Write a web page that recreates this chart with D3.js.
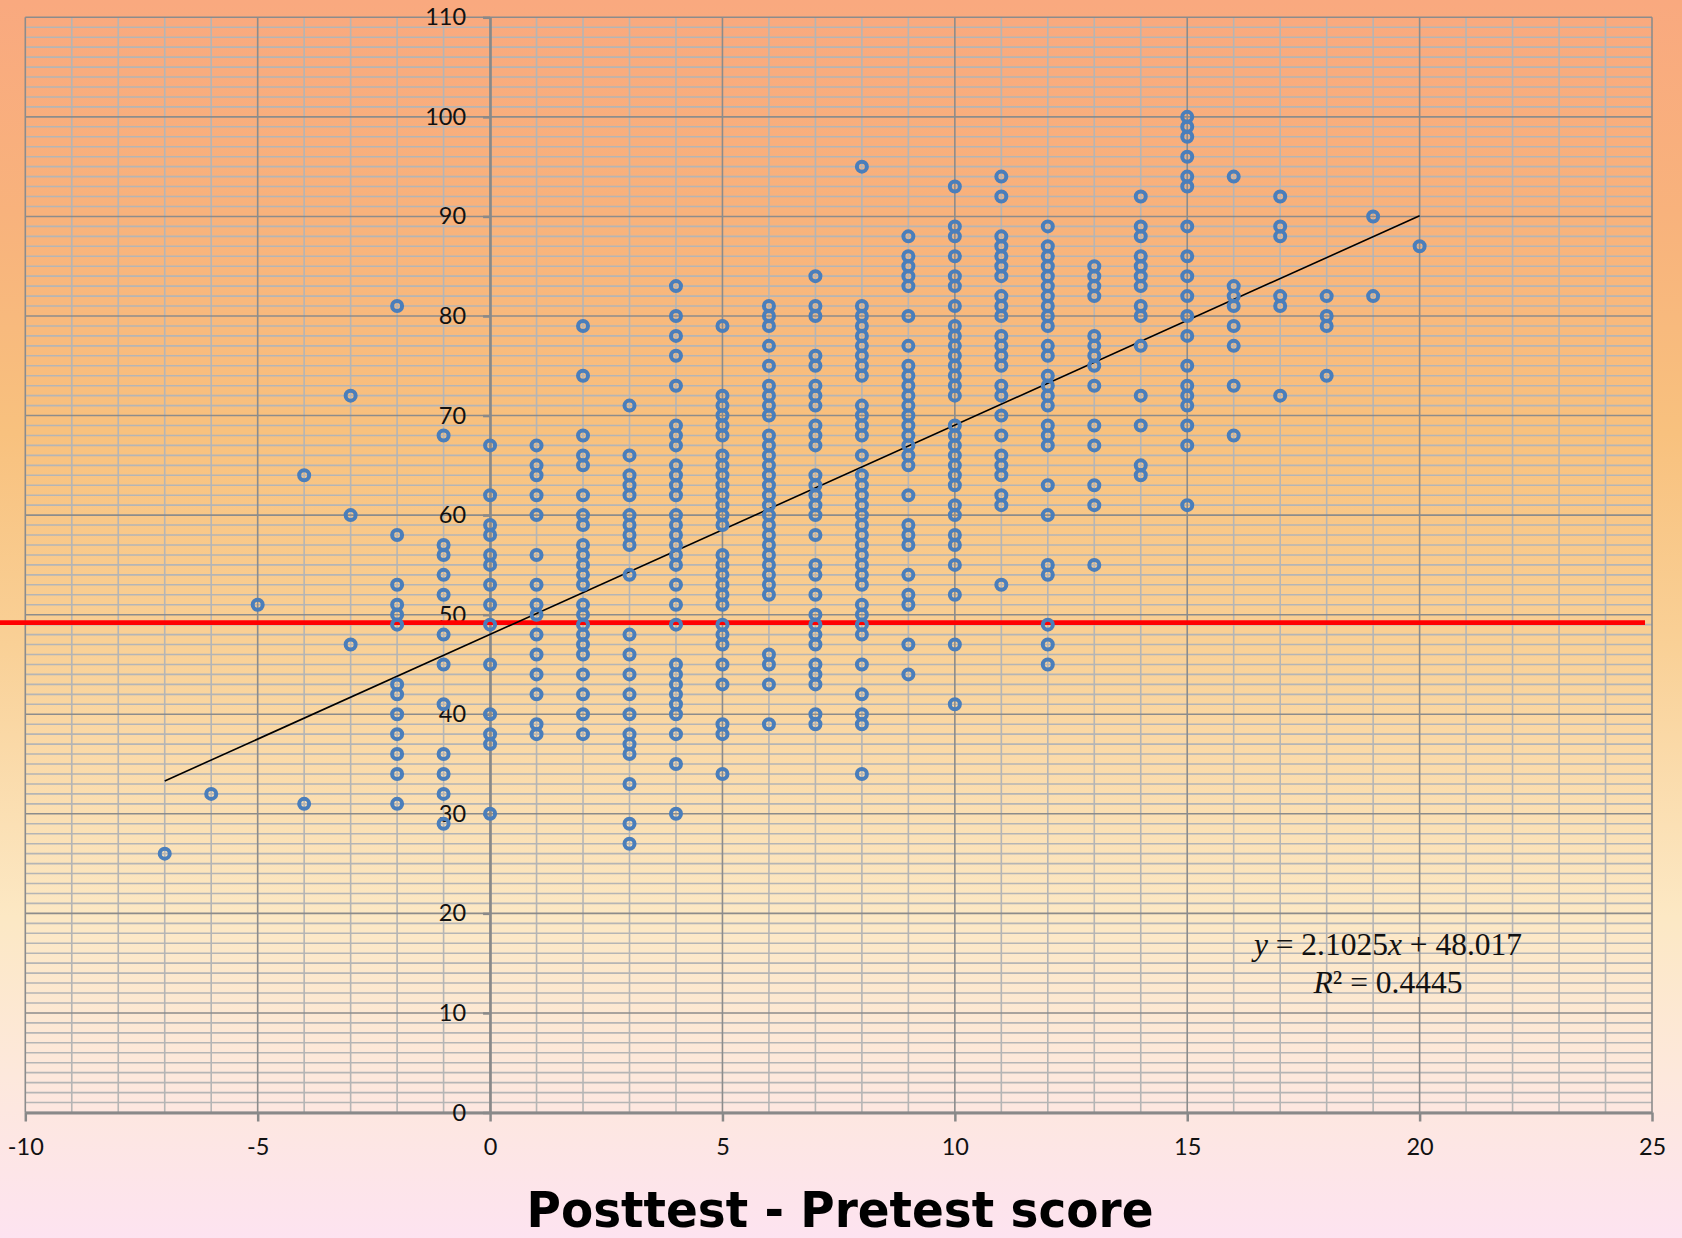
<!DOCTYPE html>
<html>
<head>
<meta charset="utf-8">
<script src="https://cdn.jsdelivr.net/npm/d3@7"></script>
<style>
  body { margin: 0; }
  svg { display: block; }
</style>
</head>
<body>
<svg id="chart"></svg>
<script>
// gain in score (posttest - pretest) and the posttest scores seen at each gain
const gains = [-7, -6, -5, -4, -3, -2, -1, 0, 1, 2, 3, 4, 5, 6, 7, 8, 9, 10, 11, 12, 13, 14, 15, 16, 17, 18, 19, 20]
const scores = [
  [26],
  [32],
  [51],
  [64, 31],
  [72, 60, 47],
  [81, 58, 53, 51, 50, 49, 43, 42, 40, 38, 36, 34, 31],
  [68, 57, 56, 54, 52, 48, 45, 41, 36, 34, 32, 29],
  [67, 62, 59, 58, 56, 55, 53, 51, 49, 45, 40, 38, 37, 30],
  [67, 65, 64, 62, 60, 56, 53, 51, 50, 48, 46, 44, 42, 39, 38],
  [79, 74, 68, 66, 65, 62, 60, 59, 57, 56, 55, 54, 53, 51, 50, 49, 48, 47, 46, 44, 42, 40, 38],
  [71, 66, 64, 63, 62, 60, 59, 58, 57, 54, 48, 46, 44, 42, 40, 38, 37, 36, 33, 29, 27],
  [83, 80, 78, 76, 73, 69, 68, 67, 65, 64, 63, 62, 60, 59, 58, 57, 56, 55, 53, 51, 49, 45, 44, 43, 42, 41, 40, 38, 35, 30],
  [79, 72, 71, 70, 69, 68, 66, 65, 64, 63, 62, 61, 60, 59, 56, 55, 54, 53, 52, 51, 49, 48, 47, 45, 43, 39, 38, 34],
  [81, 80, 79, 77, 75, 73, 72, 71, 70, 68, 67, 66, 65, 64, 63, 62, 61, 60, 59, 58, 57, 56, 55, 54, 53, 52, 46, 45, 43, 39],
  [84, 81, 80, 76, 75, 73, 72, 71, 69, 68, 67, 64, 63, 62, 61, 60, 58, 55, 54, 52, 50, 49, 48, 47, 45, 44, 43, 40, 39],
  [95, 81, 80, 79, 78, 77, 76, 75, 74, 71, 70, 69, 68, 66, 64, 63, 62, 61, 60, 59, 58, 57, 56, 55, 54, 53, 51, 50, 49, 48, 45, 42, 40, 39, 34],
  [88, 86, 85, 84, 83, 80, 77, 75, 74, 73, 72, 71, 70, 69, 68, 67, 66, 65, 62, 59, 58, 57, 54, 52, 51, 47, 44],
  [93, 89, 88, 86, 84, 83, 81, 79, 78, 77, 76, 75, 74, 73, 72, 69, 68, 67, 66, 65, 64, 63, 61, 60, 58, 57, 55, 52, 47, 41],
  [94, 92, 88, 87, 86, 85, 84, 82, 81, 80, 78, 77, 76, 75, 73, 72, 70, 68, 66, 65, 64, 62, 61, 53],
  [89, 87, 86, 85, 84, 83, 82, 81, 80, 79, 77, 76, 74, 73, 72, 71, 69, 68, 67, 63, 60, 55, 54, 49, 47, 45],
  [85, 84, 83, 82, 78, 77, 76, 75, 73, 69, 67, 63, 61, 55],
  [92, 89, 88, 86, 85, 84, 83, 81, 80, 77, 72, 69, 65, 64],
  [100, 99, 98, 96, 94, 93, 89, 86, 84, 82, 80, 78, 75, 73, 72, 71, 69, 67, 61],
  [94, 83, 82, 81, 79, 77, 73, 68],
  [92, 89, 88, 82, 81, 72],
  [82, 80, 79, 74],
  [90, 82],
  [87]
]

// linear trend as printed on the chart
const slope = 2.1025
const intercept = 48.017
const rSquared = 0.4445
const trendRange = [-7, 20]

// red reference line (posttest score)
const passScore = 49.2

const xTicks = [-10, -5, 0, 5, 10, 15, 20, 25]
const yTicks = [0, 10, 20, 30, 40, 50, 60, 70, 80, 90, 100, 110]
const xTitle = "Posttest - Pretest score"

const width = 1682
const height = 1238

const points = []
gains.forEach((g, i) => scores[i].forEach(s => points.push({ x: g, y: s })))

const x = d3.scaleLinear().domain([-10, 25]).range([25.3, 1652])
const y = d3.scaleLinear().domain([0, 110]).range([1112.5, 17.3])

const svg = d3.select("#chart")
    .attr("width", width)
    .attr("height", height)

const grad = svg.append("defs")
    .append("linearGradient")
    .attr("id", "bg")
    .attr("x1", 0).attr("y1", 0).attr("x2", 0).attr("y2", 1)

grad.selectAll("stop")
    .data([
        [0, "#f9a97f"],
        [0.17, "#f8b27c"],
        [0.35, "#f8c17e"],
        [0.52, "#f9d096"],
        [0.74, "#fce8c4"],
        [0.87, "#fde8dc"],
        [1, "#fde3f0"]
    ])
    .join("stop")
    .attr("offset", d => d[0])
    .attr("stop-color", d => d[1])

svg.append("rect")
    .attr("width", width)
    .attr("height", height)
    .attr("fill", "url(#bg)")

const grid = svg.append("g")

// minor gridlines, one unit apart
grid.selectAll(".hminor")
    .data(d3.range(1, 110).filter(v => v % 10 !== 0))
    .join("line")
    .attr("x1", x(-10)).attr("x2", x(25))
    .attr("y1", d => y(d)).attr("y2", d => y(d))
    .style("stroke", "#b5b5b5")
    .style("stroke-width", 1.6)

grid.selectAll(".vminor")
    .data(d3.range(-9, 25).filter(v => v % 5 !== 0))
    .join("line")
    .attr("y1", y(0)).attr("y2", y(110))
    .attr("x1", d => x(d)).attr("x2", d => x(d))
    .style("stroke", "#b5b5b5")
    .style("stroke-width", 1.6)

// major gridlines
grid.selectAll(".hmajor")
    .data(yTicks)
    .join("line")
    .attr("x1", x(-10)).attr("x2", x(25))
    .attr("y1", d => y(d)).attr("y2", d => y(d))
    .style("stroke", "#8c8c8c")
    .style("stroke-width", 1.6)

grid.selectAll(".vmajor")
    .data(xTicks)
    .join("line")
    .attr("y1", y(0)).attr("y2", y(110))
    .attr("x1", d => x(d)).attr("x2", d => x(d))
    .style("stroke", "#8c8c8c")
    .style("stroke-width", 1.6)

// axes (plain hyphen for negatives, like the original)
const fmt = d => String(d)

const xAxis = svg.append("g")
    .attr("transform", `translate(0,${y(0)})`)
    .call(d3.axisBottom(x).tickValues(xTicks).tickFormat(fmt).tickSize(9).tickPadding(17).tickSizeOuter(0))

const yAxis = svg.append("g")
    .attr("transform", `translate(${x(0)},0)`)
    .call(d3.axisLeft(y).tickValues(yTicks).tickFormat(fmt).tickSize(7).tickPadding(17).tickSizeOuter(0))

xAxis.select(".domain").style("stroke", "#898989").style("stroke-width", 3)
yAxis.select(".domain").style("stroke", "#898989").style("stroke-width", 2.5)
svg.selectAll(".tick line").style("stroke", "#898989").style("stroke-width", 2.5)
svg.selectAll(".tick text")
    .style("font-family", "Lato, 'Open Sans', sans-serif")
    .style("font-size", "23.5px")
    .style("fill", "#111")

// reference line
svg.append("line")
    .attr("x1", 0)
    .attr("x2", x(24.85))
    .attr("y1", y(passScore))
    .attr("y2", y(passScore))
    .style("stroke", "#ff0000")
    .style("stroke-width", 4.6)

// trend line
svg.append("line")
    .attr("x1", x(trendRange[0]))
    .attr("y1", y(slope * trendRange[0] + intercept))
    .attr("x2", x(trendRange[1]))
    .attr("y2", y(slope * trendRange[1] + intercept))
    .style("stroke", "#000")
    .style("stroke-width", 1.6)

// points
svg.append("g")
    .selectAll("circle")
    .data(points)
    .join("circle")
    .attr("cx", d => x(d.x))
    .attr("cy", d => y(d.y))
    .attr("r", 5)
    .style("fill", "none")
    .style("stroke", "#4a7ebb")
    .style("stroke-width", 4)

// equation label
const eq = svg.append("text")
    .attr("text-anchor", "middle")
    .style("font-family", "'Liberation Serif', 'Times New Roman', serif")
    .style("font-size", "31.5px")
    .style("fill", "#111")

const line1 = eq.append("tspan").attr("x", 1388).attr("y", 955)
line1.append("tspan").style("font-style", "italic").text("y")
line1.append("tspan").text(" = " + slope)
line1.append("tspan").style("font-style", "italic").text("x")
line1.append("tspan").text(" + " + intercept)

const line2 = eq.append("tspan").attr("x", 1388).attr("y", 993)
line2.append("tspan").style("font-style", "italic").text("R")
line2.append("tspan").text("² = " + rSquared)

// axis title
svg.append("text")
    .attr("x", 840)
    .attr("y", 1227)
    .attr("text-anchor", "middle")
    .attr("textLength", 627)
    .attr("lengthAdjust", "spacingAndGlyphs")
    .style("font-family", "'DejaVu Sans', sans-serif")
    .style("font-weight", "bold")
    .style("font-size", "50px")
    .style("fill", "#000")
    .text(xTitle)
</script>
</body>
</html>
